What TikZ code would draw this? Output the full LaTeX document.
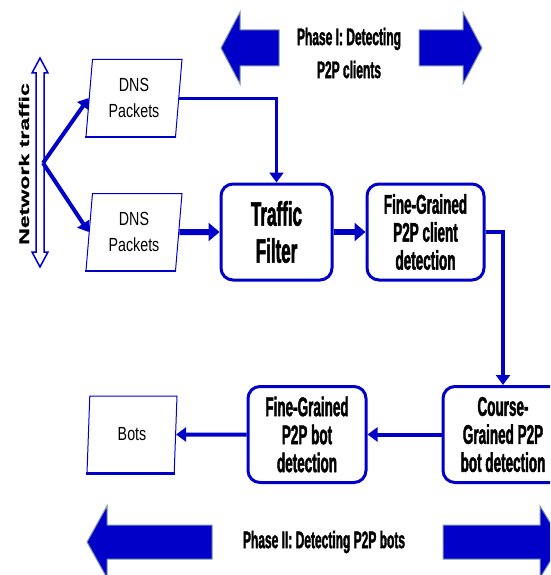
\documentclass[tikz,border=0pt]{standalone}
\usepackage{fontspec}
\setmainfont{Liberation Sans}
\newfontfamily\narrowFont[FakeStretch=0.5, FakeBold=1.5]{Liberation Sans}
\newfontfamily\plainFont[FakeStretch=0.75]{Liberation Sans}
\newfontfamily\wideFont[FakeStretch=1.65, FakeBold=1]{Liberation Sans}
\usetikzlibrary{arrows.meta,shapes.geometric}
\definecolor{flowBlue}{RGB}{0,0,200}
\definecolor{arrowEdge}{RGB}{130,150,170}

\tikzset{
    procBox/.style={draw=flowBlue, line width=3pt, rounded corners=12pt, align=center,
        minimum height=96pt, font=\narrowFont\bfseries\fontsize{27}{28}\selectfont},
    dataBox/.style={trapezium, trapezium left angle=82, trapezium right angle=98,
        trapezium stretches body, draw=flowBlue, line width=1pt, minimum height=77pt,
        align=center, font=\plainFont\fontsize{19}{26}\selectfont},
    flowLine/.style={draw=flowBlue, line width=4pt, -{Triangle[length=10pt,width=14pt]}},
    mainLine/.style={draw=flowBlue, line width=6pt, -{Triangle[length=11pt,width=18pt]}},
    bigArrow/.style={fill=flowBlue, draw=arrowEdge, line width=1pt},
    phaseText/.style={font=\narrowFont\bfseries\fontsize{24}{33}\selectfont, align=center},
}

\begin{document}
\begin{tikzpicture}[x=1pt, y=-1pt]
        \useasboundingbox (0,0) rectangle (550,575);
        \clip (0,0) rectangle (550,575);

        % phase banners
        \draw[bigArrow] (221,48) -- (240,12) -- (240,30) -- (279,30) -- (279,66) -- (240,66) -- (240,84) -- cycle;
        \draw[bigArrow] (482,48) -- (463,12) -- (463,30) -- (419,30) -- (419,66) -- (463,66) -- (463,84) -- cycle;
        \node[phaseText] (phaseOne) at (349,53) {Phase I: Detecting\\P2P clients};

        \draw[bigArrow] (87,542) -- (107,506) -- (107,525) -- (212,525) -- (212,559) -- (107,559) -- (107,578) -- cycle;
        \draw[bigArrow] (562,542) -- (540,506) -- (540,525) -- (443,525) -- (443,559) -- (540,559) -- (540,578) -- cycle;
        \node[phaseText] (phaseTwo) at (324,542) {Phase II: Detecting P2P bots};

        % network traffic
        \draw[flowBlue, line width=1.5pt] (36,73) -- (32,73) -- (40,58) -- (48,73) -- (44,73) --
            (44,252) -- (48,252) -- (40,267) -- (32,252) -- (36,252) -- cycle;
        \node[rotate=90, font=\wideFont\bfseries\fontsize{14}{16}\selectfont] (netLabel) at (24,164) {Network traffic};
        \coordinate (branch) at (43,163);

        % boxes
        \node[dataBox, minimum width=96pt] (dnsTop) at (134,98) {DNS\\Packets};
        \node[dataBox, minimum width=96pt] (dnsBot) at (134,232) {DNS\\Packets};
        \node[procBox, minimum width=111pt, font=\narrowFont\bfseries\fontsize{34}{37}\selectfont] (filter) at (276.5,232) {Traffic\\Filter};
        \node[procBox, minimum width=117pt] (clientDet) at (425.5,232) {Fine-Grained\\P2P client\\detection};
        \node[procBox, minimum width=120pt] (coarseDet) at (503,434.5) {Course-\\Grained P2P\\bot detection};
        \node[procBox, minimum width=118pt] (botDet) at (307,434.5) {Fine-Grained\\P2P bot\\detection};
        \node[dataBox, minimum width=90pt] (bots) at (132,434.5) {Bots};

        \foreach \n in {dnsTop, dnsBot, bots}
            \draw[flowBlue, line width=2.5pt] (\n.bottom left corner) -- (\n.bottom right corner);

        % flow
        \draw[flowLine] (branch) -- (dnsTop.west);
        \draw[flowLine] (branch) -- (dnsBot.west);
        \draw[flowLine, line width=3pt] (dnsTop.east) -| (filter.north);
        \draw[mainLine] (dnsBot.east) -- (filter.west);
        \draw[mainLine] (filter.east) -- (clientDet.west);
        \draw[flowLine] (clientDet.east) -| (coarseDet.north);
        \draw[flowLine] (coarseDet.west) -- (botDet.east);
        \draw[flowLine] (botDet.west) -- (bots.east);
\end{tikzpicture}
\end{document}
